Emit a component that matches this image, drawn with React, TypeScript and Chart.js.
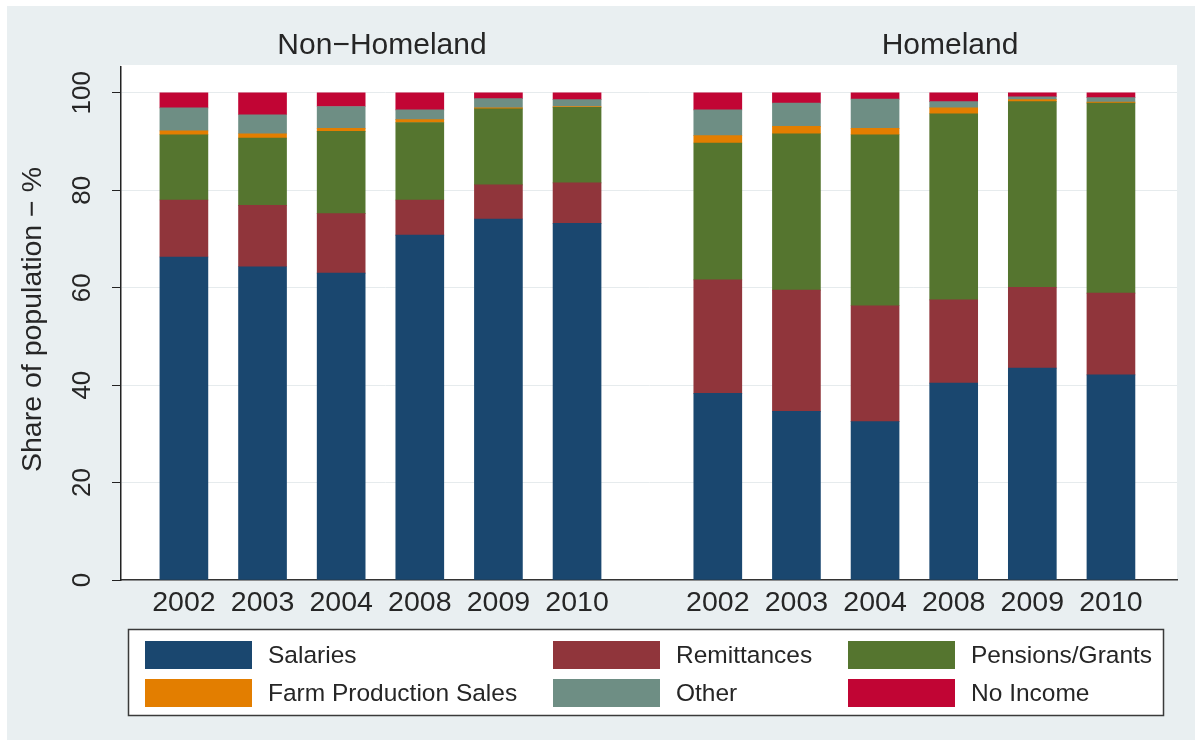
import React, { useEffect, useRef } from 'react';
import { Chart, registerables } from 'chart.js';

Chart.register(...registerables);

// ---------------- data ----------------
const groups = ['Non−Homeland', 'Homeland'];
const years = ['2002', '2003', '2004', '2008', '2009', '2010'];
const seriesNames = ['Salaries', 'Remittances', 'Pensions/Grants', 'Farm Production Sales', 'Other', 'No Income'];
const seriesColors = ['#1a476f', '#90353b', '#55752f', '#e37e00', '#6e8e84', '#c10534'];

// first 6 = Non-Homeland, last 6 = Homeland (2002, 2003, 2004, 2008, 2009, 2010)
const salaries = [66.3, 64.3, 63.0, 70.8, 74.1, 73.2, 38.3, 34.6, 32.5, 40.4, 43.5, 42.1];
const remittances = [11.7, 12.6, 12.2, 7.2, 7.0, 8.3, 23.3, 24.9, 23.8, 17.1, 16.6, 16.8];
const pensions = [13.4, 13.8, 16.9, 15.9, 15.6, 15.5, 28.1, 32.1, 35.1, 38.2, 38.1, 39.0];
const farmSales = [0.8, 0.9, 0.6, 0.6, 0.2, 0.2, 1.5, 1.5, 1.3, 1.2, 0.4, 0.2];
const other = [4.7, 3.9, 4.5, 2.0, 1.9, 1.4, 5.3, 4.8, 6.0, 1.3, 0.6, 0.9];
const noIncome = [3.1, 4.5, 2.8, 3.5, 1.2, 1.4, 3.5, 2.1, 1.3, 1.8, 0.8, 1.0];

const yTicks = [0, 20, 40, 60, 80, 100];
const yTitle = 'Share of population − %';

// ---------------- layout helpers ----------------
const GROUP_GAP = 0.79;
const EDGE_L = 0.8;
const EDGE_R = 0.84;
const TITLE_X = [382, 950];
const posOf = (g: number, i: number) => g * (years.length + GROUP_GAP) + i;
const positions: number[] = [];
const labelsAt: string[] = [];
groups.forEach((_, g) => years.forEach((y, i) => { positions.push(posOf(g, i)); labelsAt.push(y); }));
const allSeries = [salaries, remittances, pensions, farmSales, other, noIncome];

const FONT = '"Liberation Sans", Arial, Helvetica, sans-serif';
const TEXT = '#262626';

const decor = {
  id: 'decor',
  beforeDraw(chart: any) {
    const { ctx, chartArea: a } = chart;
    ctx.save();
    ctx.fillStyle = '#ffffff';
    ctx.fillRect(0, 0, chart.width, chart.height);
    ctx.fillStyle = '#e9eff1';
    ctx.fillRect(7, 6, 1188, 734);
    ctx.fillStyle = '#ffffff';
    ctx.fillRect(a.left, a.top - 2, a.right - a.left, a.bottom - a.top + 2);
    ctx.restore();
  },
  afterDraw(chart: any) {
    const { ctx, chartArea: a } = chart;
    const ys = chart.scales.y;
    ctx.save();
    ctx.fillStyle = TEXT;
    // group titles
    ctx.font = `30px ${FONT}`;
    ctx.textAlign = 'center';
    ctx.textBaseline = 'middle';
    groups.forEach((name, g) => {
      ctx.fillText(name, TITLE_X[g], 46);
    });
    // y tick labels (rotated)
    ctx.font = `26px ${FONT}`;
    yTicks.forEach((v) => {
      const py = ys.getPixelForValue(v);
      ctx.save();
      ctx.translate(96, py);
      ctx.rotate(-Math.PI / 2);
      ctx.textAlign = 'center';
      ctx.textBaseline = 'bottom';
      ctx.fillText(String(v), 0, 0);
      ctx.restore();
    });
    // y title
    ctx.save();
    ctx.font = `28.5px ${FONT}`;
    ctx.translate(33, (a.top + a.bottom) / 2 - 4);
    ctx.rotate(-Math.PI / 2);
    ctx.textAlign = 'center';
    ctx.textBaseline = 'middle';
    ctx.fillText(yTitle, 0, 0);
    ctx.restore();
    // legend
    const bx = 128, by = 629, bw = 1035, bh = 86;
    ctx.fillStyle = '#ffffff';
    ctx.fillRect(bx, by, bw, bh);
    ctx.strokeStyle = '#3a3a3a';
    ctx.lineWidth = 1.5;
    ctx.strokeRect(bx + 0.5, by + 0.5, bw, bh);
    const cols = [145, 553, 848];
    const rows = [641, 679];
    ctx.font = `24.5px ${FONT}`;
    ctx.textAlign = 'left';
    ctx.textBaseline = 'middle';
    chart.data.datasets.forEach((ds: any, k: number) => {
      const cx = cols[k % 3];
      const ry = rows[Math.floor(k / 3)];
      ctx.fillStyle = ds.backgroundColor;
      ctx.fillRect(cx, ry, 107, 28);
      ctx.fillStyle = TEXT;
      ctx.fillText(ds.label, cx + 123, ry + 15);
    });
    ctx.restore();
  },
};

export default function App() {
  const ref = useRef<HTMLCanvasElement | null>(null);
  useEffect(() => {
    if (!ref.current) return;
    const datasets = seriesNames.map((name, k) => ({
      label: name,
      data: positions.map((p, i) => ({ x: p, y: allSeries[k][i] })),
      backgroundColor: seriesColors[k],
      borderWidth: 0,
      barThickness: 48,
    }));
    const maxPos = positions[positions.length - 1];
    const chart = new Chart(ref.current, {
      type: 'bar',
      data: { datasets },
      plugins: [decor],
      options: {
        animation: false,
        responsive: false,
        devicePixelRatio: 1,
        layout: { padding: { left: 0, top: 67, right: 22, bottom: 0 } },
        plugins: { legend: { display: false }, tooltip: { enabled: false } },
        scales: {
          x: {
            type: 'linear',
            stacked: true,
            offset: false,
            min: -EDGE_L,
            max: maxPos + EDGE_R,
            afterBuildTicks: (s: any) => { s.ticks = positions.map((v) => ({ value: v })); },
            afterFit: (s: any) => { s.height = 164; },
            ticks: {
              autoSkip: false,
              maxRotation: 0,
              minRotation: 0,
              padding: 6,
              color: TEXT,
              font: { family: FONT, size: 28.5 },
              callback: (v: any) => {
                const i = positions.findIndex((p) => Math.abs(p - Number(v)) < 1e-6);
                return i >= 0 ? labelsAt[i] : '';
              },
            },
            grid: { display: false, drawTicks: false },
            border: { display: true, color: '#333333', width: 1.5 },
          },
          y: {
            stacked: true,
            min: 0,
            max: 105.3,
            afterBuildTicks: (s: any) => { s.ticks = yTicks.map((v) => ({ value: v })); },
            afterFit: (s: any) => { s.width = 121; },
            ticks: { display: false },
            grid: { color: '#e6ebed', lineWidth: 1, drawTicks: true, tickLength: 9, tickColor: '#222222' },
            border: { display: true, color: '#222222', width: 1.5 },
          },
        },
      },
    });
    return () => chart.destroy();
  }, []);
  return (
    <div style={{ position: 'fixed', left: 0, top: 0, width: 1199, height: 744 }}>
      <canvas ref={ref} width={1199} height={744} style={{ width: 1199, height: 744 }} />
    </div>
  );
}
